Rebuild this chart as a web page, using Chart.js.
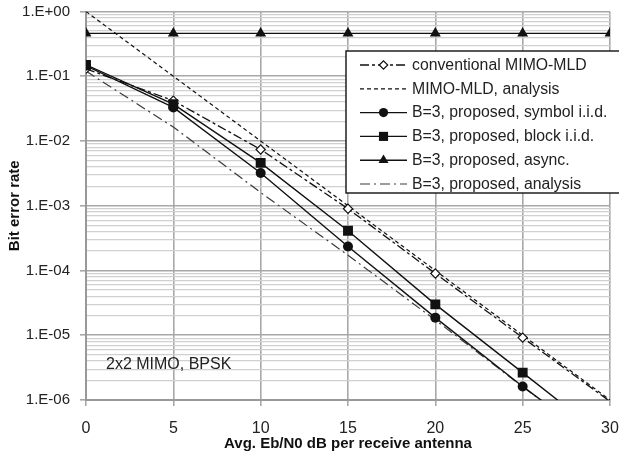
<!DOCTYPE html>
<html>
<head>
<meta charset="utf-8">
<script src="https://cdn.jsdelivr.net/npm/chart.js@4/dist/chart.umd.min.js"></script>
<style>
html,body{margin:0;padding:0;background:#ffffff;}
#wrap{width:619px;height:456px;position:relative;}
</style>
</head>
<body>
<div id="wrap"><canvas id="c" width="619" height="456"></canvas></div>
<script>
// ---------- data ----------
const snrDb = [0, 5, 10, 15, 20, 25, 30];
const conventionalMld = [0.13, 0.042, 0.0074, 0.00090, 0.000090, 0.0000092, 0.00000095];
const mldAnalysis     = [1.0, 0.1, 0.01, 0.001, 0.0001, 0.00001, 0.000001];
const symbolIid       = [0.145, 0.033, 0.0032, 0.000235, 0.0000187, 0.00000162, 0.00000016];
const blockIid        = [0.15, 0.037, 0.0046, 0.00041, 0.000030, 0.00000265, 0.00000023];
const asyncB3         = [0.46, 0.46, 0.46, 0.46, 0.46, 0.46, 0.46];
const proposedAnalysis= [0.12, 0.0164, 0.0016, 0.000172, 0.0000172, 0.0000016, 0.00000016];
const seriesLabels = [
  'conventional MIMO-MLD',
  'MIMO-MLD, analysis',
  'B=3, proposed, symbol i.i.d.',
  'B=3, proposed, block i.i.d.',
  'B=3, proposed, async.',
  'B=3, proposed, analysis'
];
const yDecadeExponents = [0, -1, -2, -3, -4, -5, -6];
const xTickStep = 5;
const xTitle = 'Avg. Eb/N0 dB per receive antenna';
const yTitle = 'Bit error rate';
const annotationText = '2x2 MIMO, BPSK';

// ---------- helpers ----------
const FONT = "'Liberation Sans', Arial, sans-serif";
const toPts = arr => arr.map((v, i) => ({x: snrDb[i], y: v}));
const hideOutside = r => ctx => (ctx.raw && ctx.raw.y < 1e-6) ? 0 : r;

function decadeLabel(v) {
  const e = Math.round(Math.log10(v));
  const a = Math.abs(e);
  return '1.E' + (e >= 0 ? '+' : '-') + (a < 10 ? '0' : '') + a;
}

const datasets = [
  {label: seriesLabels[0], data: toPts(conventionalMld), borderColor: '#111', borderWidth: 1.3,
   borderDash: [9, 3, 3, 3], pointStyle: 'rectRot', pointRadius: hideOutside(4.6),
   pointBackgroundColor: '#fff', pointBorderColor: '#111', pointBorderWidth: 1.2, order: 2},
  {label: seriesLabels[1], data: toPts(mldAnalysis), borderColor: '#111', borderWidth: 1.2,
   borderDash: [4, 3], pointRadius: 0, order: 5},
  {label: seriesLabels[2], data: toPts(symbolIid), borderColor: '#111', borderWidth: 1.4,
   pointStyle: 'circle', pointRadius: hideOutside(5), pointBackgroundColor: '#111',
   pointBorderColor: '#111', pointBorderWidth: 0, order: 1},
  {label: seriesLabels[3], data: toPts(blockIid), borderColor: '#111', borderWidth: 1.4,
   pointStyle: 'rect', pointRadius: hideOutside(7), pointBackgroundColor: '#111',
   pointBorderColor: '#111', pointBorderWidth: 0, order: 0},
  {label: seriesLabels[4], data: toPts(asyncB3), borderColor: '#111', borderWidth: 1.4,
   pointStyle: 'triangle', pointRadius: 6.3, pointBackgroundColor: '#111',
   pointBorderColor: '#111', pointBorderWidth: 0, order: 3},
  {label: seriesLabels[5], data: toPts(proposedAnalysis), borderColor: '#3a3a3a', borderWidth: 1.2,
   borderDash: [10, 4, 2, 4], pointRadius: 0, order: 4}
];
datasets.forEach(d => { d.fill = false; d.tension = 0; d.clip = 0; });

// ---------- plugins ----------
const legendBox = {
  id: 'legendBox',
  afterDatasetsDraw(chart) {
    const ctx = chart.ctx;
    const ca = chart.chartArea;
    const left = ca.left + 260, top = ca.top + 39.5, right = chart.width + 2, bottom = ca.top + 181.5;
    ctx.save();
    ctx.fillStyle = '#fff';
    ctx.fillRect(left, top, right - left, bottom - top);
    ctx.strokeStyle = '#111';
    ctx.lineWidth = 1.4;
    ctx.setLineDash([]);
    ctx.strokeRect(left, top, right - left, bottom - top);
    const rowH = 23.8;
    const x0 = left + 14, x1 = left + 61, xm = (x0 + x1) / 2;
    chart.data.datasets.forEach((ds, i) => {
      const y = top + 14 + i * rowH;
      ctx.save();
      ctx.strokeStyle = ds.borderColor;
      ctx.lineWidth = ds.borderWidth;
      ctx.setLineDash(ds.borderDash || []);
      ctx.beginPath();
      ctx.moveTo(x0, y);
      ctx.lineTo(x1, y);
      ctx.stroke();
      ctx.setLineDash([]);
      const r = typeof ds.pointRadius === 'function' ? ds.pointRadius({raw: {y: 1}}) : ds.pointRadius;
      if (r > 0) {
        ctx.fillStyle = ds.pointBackgroundColor;
        ctx.strokeStyle = ds.pointBorderColor;
        ctx.lineWidth = ds.pointBorderWidth;
        Chart.helpers.drawPoint(ctx, {pointStyle: ds.pointStyle, rotation: 0, radius: r * 0.92,
          borderWidth: ds.pointBorderWidth}, xm, y);
      }
      ctx.restore();
      ctx.fillStyle = '#222';
      ctx.font = '15.8px ' + FONT;
      ctx.textBaseline = 'middle';
      ctx.textAlign = 'left';
      ctx.fillText(ds.label, left + 66, y + 0.5);
    });
    ctx.fillStyle = '#222';
    ctx.font = '16px ' + FONT;
    ctx.textBaseline = 'middle';
    ctx.textAlign = 'left';
    ctx.fillText(annotationText, ca.left + 20, ca.top + 353.5);
    ctx.restore();
  }
};

const zeroPad = s => { s.paddingTop = 0; s.paddingBottom = 0; s.paddingLeft = 0; s.paddingRight = 0; };

// ---------- chart ----------
new Chart(document.getElementById('c'), {
  type: 'line',
  data: {datasets},
  plugins: [legendBox],
  options: {
    responsive: false,
    animation: false,
    devicePixelRatio: 1,
    layout: {padding: {top: 11.5, right: 9, left: 0, bottom: 0}},
    plugins: {legend: {display: false}, tooltip: {enabled: false}},
    scales: {
      x: {
        type: 'linear', min: 0, max: 30,
        afterFit: s => { s.height = 56; zeroPad(s); },
        ticks: {stepSize: xTickStep, color: '#222', font: {family: FONT, size: 16}, padding: 13,
                maxRotation: 0},
        grid: {color: '#a8a8a8', lineWidth: 1.6, tickLength: 6, tickColor: '#a8a8a8'},
        border: {color: '#999', width: 2},
        title: {display: true, text: xTitle, color: '#111',
                font: {family: FONT, size: 15, weight: 'bold'}, padding: {top: 0, bottom: 3}}
      },
      y: {
        type: 'logarithmic', min: 1e-6, max: 1,
        afterFit: s => { s.width = 86; zeroPad(s); },
        afterBuildTicks: s => {
          const t = [];
          yDecadeExponents.slice().reverse().forEach(e => {
            const base = Math.pow(10, e);
            const upto = e === 0 ? 1 : 9;
            for (let m = 1; m <= upto; m++) t.push({value: m * base, major: m === 1});
          });
          s.ticks = t;
        },
        ticks: {
          autoSkip: false, color: '#222', font: {family: FONT, size: 15}, padding: 10,
          callback: (v, i, ticks) => (ticks[i] && ticks[i].major) ? decadeLabel(v) : ''
        },
        grid: {
          color: c => (c.tick && c.tick.major) ? '#a8a8a8' : '#d0d0d0',
          lineWidth: c => (c.tick && c.tick.major) ? 1.6 : 1.2,
          tickLength: 6,
          tickColor: c => (c.tick && c.tick.major) ? '#a8a8a8' : 'rgba(0,0,0,0)'
        },
        border: {color: '#999', width: 2},
        title: {display: true, text: yTitle, color: '#111',
                font: {family: FONT, size: 15, weight: 'bold'}, padding: {top: 6, bottom: 0}}
      }
    }
  }
});
</script>
</body>
</html>
